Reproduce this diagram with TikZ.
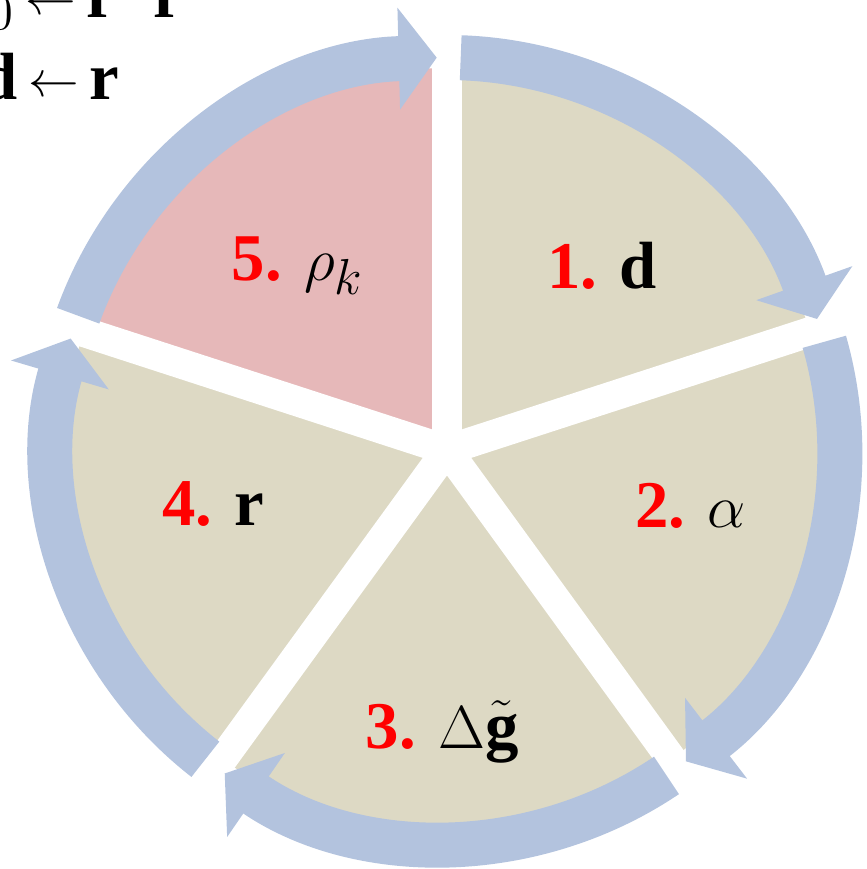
\documentclass[tikz,border=0pt]{standalone}
\usepackage{amsmath}
\usepackage{amssymb}
\usepackage{fontspec}
\setmainfont{Liberation Serif}
\usetikzlibrary{arrows.meta,calc}
\definecolor{ringBlue}{HTML}{B3C3DE}
\definecolor{sectorTan}{HTML}{DDD9C4}
\definecolor{sectorPink}{HTML}{E6B8B9}
\definecolor{stepRed}{HTML}{FF0000}
\newcommand{\assignarrow}{\hspace{3pt}\raisebox{1pt}{\fontsize{14}{16}\selectfont$\leftarrow$}\hspace{3pt}}

\begin{document}
\begin{tikzpicture}[
  ringarrow/.style={ringBlue,line width=0.45cm,line cap=butt,
    -{Triangle[width=1.0cm,length=0.38cm]}},
  gapline/.style={white,line width=0.30cm},
  steplabel/.style={font=\fontsize{19}{22}\selectfont,inner sep=0pt}]
\useasboundingbox (0,0) rectangle (8.67,8.69);
\clip (0,0) rectangle (8.67,8.69);
\coordinate (C) at (4.47,4.19);
% sectors
\foreach \a/\col in {90/sectorTan,18/sectorTan,-54/sectorTan,-126/sectorTan,162/sectorPink}
  \fill[\col] (C) -- ($(C)+(\a:3.82)$) arc[start angle=\a,delta angle=-72,radius=3.82] -- cycle;
% gaps
\foreach \a in {90,18,-54,-126,162}
  \draw[gapline] (C) -- ($(C)+(\a:4.0)$);
% ring of arrows
\foreach \a in {90,18,-54,-126,162}
  \draw[ringarrow] ($(C)+(\a-2:3.925)$) arc[start angle=\a-2,end angle=\a-70.5,radius=3.925];
% labels
\node[steplabel] (s1) at ($(C)+(50:2.41)$) {\textbf{\textcolor{stepRed}{1.}} \textbf{d}};
\node[steplabel] (s2) at ($(C)+(-13:2.50)$) {\textbf{\textcolor{stepRed}{2.}} $\alpha$};
\node[steplabel] (s3) at ($(C)+(-91:2.82)$) {\textbf{\textcolor{stepRed}{3.}} $\Delta\tilde{\mathbf{g}}$};
\node[steplabel] (s4) at ($(C)+(-167:2.40)$) {\textbf{\textcolor{stepRed}{4.}} \textbf{r}};
\node[steplabel] (s5) at ($(C)+(129:2.37)$) {\textbf{\textcolor{stepRed}{5.}} $\rho_k$};
% update rules
\node[steplabel,anchor=base east] (u1) at (1.84,8.51) {$\rho_0$\assignarrow$\mathbf{r}^{T}\mathbf{r}$};
\node[steplabel,anchor=base east] (u2) at (1.20,7.69) {\textbf{d}\assignarrow\textbf{r}};
\end{tikzpicture}
\end{document}
